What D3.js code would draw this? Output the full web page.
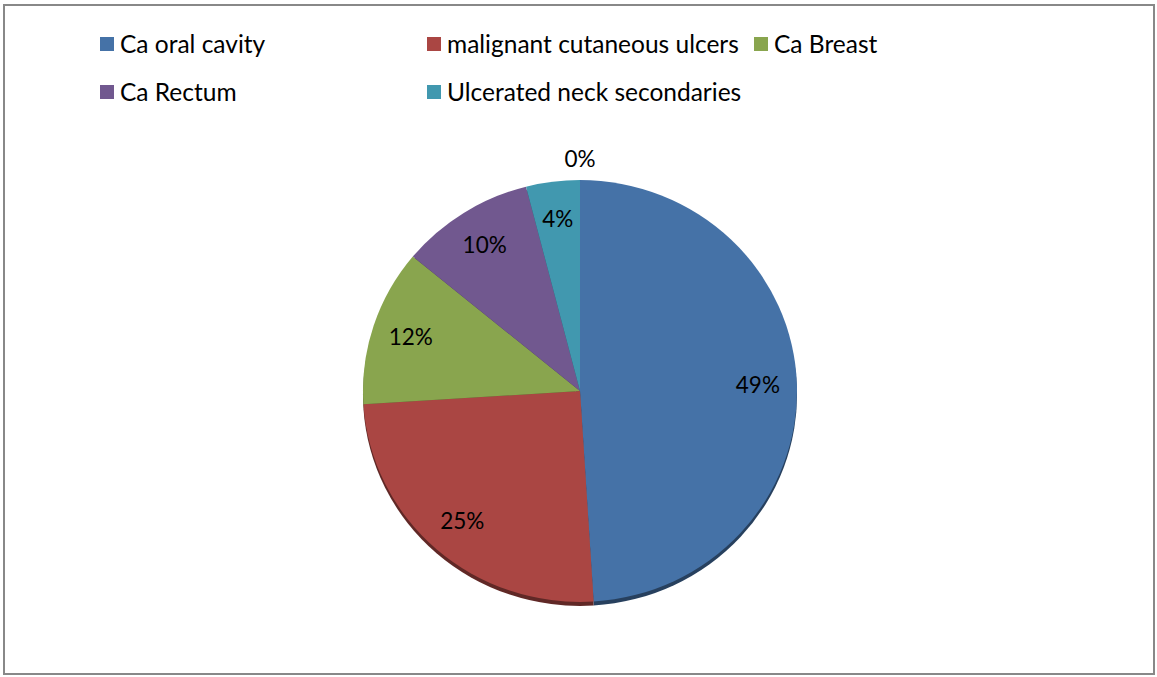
<!DOCTYPE html>
<html>
<head>
<meta charset="utf-8">
<script src="https://cdn.jsdelivr.net/npm/d3@7"></script>
<style>
  body { margin: 0; background: #fff; }
  svg { font-family: Lato, "Open Sans", sans-serif; }
</style>
</head>
<body>
<div id="chart"></div>
<script>
const categories = ["Ca oral cavity", "malignant cutaneous ulcers", "Ca Breast", "Ca Rectum", "Ulcerated neck secondaries", ""];
const values = [49, 25, 12, 10, 4, 0];
const colors = ["#4572A7", "#AA4643", "#89A54E", "#71588F", "#4198AF", "#DB843D"];

const width = 1157, height = 677;
const svg = d3.select("#chart").append("svg")
  .attr("width", width).attr("height", height);

// outer frame
svg.append("rect")
  .attr("x", 4).attr("y", 5)
  .attr("width", 1150).attr("height", 669)
  .attr("fill", "#fff")
  .attr("stroke", "#888").attr("stroke-width", 2);

const cx = 580, cy = 391, r = 217, yScale = 0.972;
const pie = d3.pie().sort(null).value(d => d)(values);
const arc = d3.arc().innerRadius(0).outerRadius(r);
const labelArc = d3.arc().innerRadius(r * 0.82).outerRadius(r * 0.82);
const outerLabelArc = d3.arc().innerRadius(r + 22).outerRadius(r + 22);

// shadow rim
const shadow = svg.append("g")
  .attr("transform", `translate(${cx},${cy + 4}) scale(1,${yScale})`);
shadow.selectAll("path").data(pie).join("path")
  .attr("d", arc)
  .attr("fill", (d, i) => d3.color(colors[i]).darker(1.6));

const g = svg.append("g")
  .attr("transform", `translate(${cx},${cy}) scale(1,${yScale})`);
g.selectAll("path").data(pie).join("path")
  .attr("d", arc)
  .attr("fill", (d, i) => colors[i]);

// data labels
const lg = svg.append("g").attr("transform", `translate(${cx},${cy})`);
lg.selectAll("text").data(pie).join("text")
  .attr("transform", d => {
    const p = (d.data === 0 ? outerLabelArc : labelArc).centroid(d);
    return `translate(${p[0]},${p[1] * yScale})`;
  })
  .attr("text-anchor", "middle")
  .attr("dy", "0.35em")
  .attr("font-size", 22.5)
  .attr("fill", "#000")
  .text(d => d.data + "%");

// legend
const legend = svg.append("g");
categories.forEach((c, i) => {
  if (!c) return;
  const col = i % 3, row = Math.floor(i / 3);
  const x = 100 + col * 327, y = 37 + row * 48;
  legend.append("rect")
    .attr("x", x).attr("y", y)
    .attr("width", 14).attr("height", 14)
    .attr("fill", colors[i]);
  legend.append("text")
    .attr("x", x + 20).attr("y", y + 7)
    .attr("dy", "0.35em")
    .attr("font-size", 24.5)
    .attr("fill", "#000")
    .text(c);
});
</script>
</body>
</html>
